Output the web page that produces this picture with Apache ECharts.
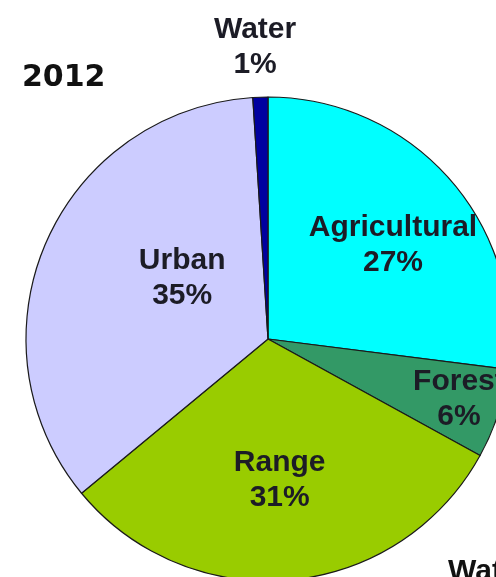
<!DOCTYPE html>
<html>
<head>
<meta charset="utf-8">
<script src="https://cdn.jsdelivr.net/npm/echarts@6/dist/echarts.min.js"></script>
<style>
  html, body { margin: 0; padding: 0; background: #fff; }
  #chart { width: 496px; height: 577px; }
</style>
</head>
<body>
<div id="chart"></div>
<script>
// Land use shares, 2012 (clockwise from 12 o'clock)
const categories = ['Agricultural', 'Forest', 'Range', 'Urban', 'Water'];
const shares = [27, 6, 31, 35, 1];
const sliceColors = ['#00FFFF', '#339966', '#99CC00', '#CCCCFF', '#0000A0'];
// per-slice label nudges so the text sits where it reads best
const labelOffsets = [[32, -12], [73, 22], [0, 18], [28, -12], [-9, -168]];

const FONT = '"Liberation Sans", Arial, sans-serif';

const chart = echarts.init(document.getElementById('chart'), null, { renderer: 'canvas' });

chart.setOption({
  backgroundColor: '#ffffff',
  animation: false,
  title: {
    text: '2012',
    left: 17,
    top: 58,
    textStyle: { fontFamily: '"DejaVu Sans", sans-serif', fontSize: 30, fontWeight: 'bold', color: '#111' }
  },
  graphic: [{
    // label of the neighbouring chart peeking in at the bottom edge
    type: 'text',
    left: 448,
    top: 557,
    style: { text: 'Water', font: 'bold 30px ' + FONT, fill: '#111' }
  }],
  series: [{
    type: 'pie',
    center: [268, 339],
    radius: 242,
    startAngle: 90,
    clockwise: true,
    avoidLabelOverlap: false,
    labelLine: { show: false },
    itemStyle: { borderColor: '#1a1a1a', borderWidth: 1.2 },
    label: {
      show: true,
      position: 'inside',
      formatter: p => p.name + '\n' + p.value + '%',
      fontFamily: FONT,
      fontSize: 30,
      fontWeight: 'bold',
      lineHeight: 35,
      color: '#1c1c26',
      align: 'center'
    },
    emphasis: { disabled: true },
    data: categories.map((name, i) => ({
      name: name,
      value: shares[i],
      itemStyle: { color: sliceColors[i] },
      label: { offset: labelOffsets[i] }
    }))
  }]
});
</script>
</body>
</html>
